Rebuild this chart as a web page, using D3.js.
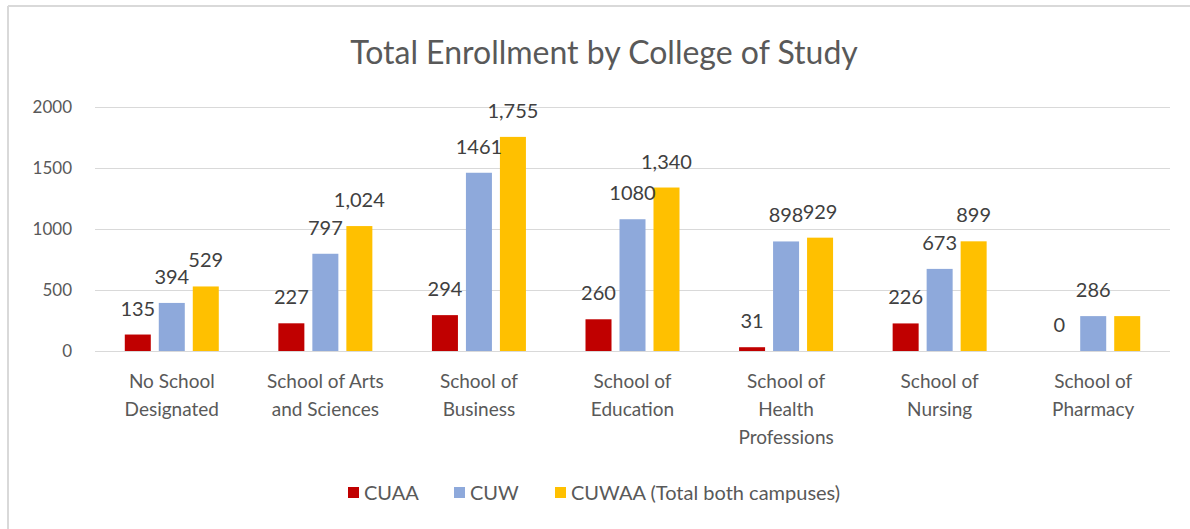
<!DOCTYPE html>
<html>
<head>
<meta charset="utf-8">
<script src="https://cdn.jsdelivr.net/npm/d3@7"></script>
<style>
  html, body { margin: 0; padding: 0; background: #fff; }
  svg { display: block; font-family: Lato, "Open Sans", sans-serif; }
</style>
</head>
<body>
<div id="chart"></div>
<script>
// data
const categories = [
    ["No School", "Designated"],
    ["School of Arts", "and Sciences"],
    ["School of", "Business"],
    ["School of", "Education"],
    ["School of", "Health", "Professions"],
    ["School of", "Nursing"],
    ["School of", "Pharmacy"]
];
const seriesNames = ["CUAA", "CUW", "CUWAA (Total both campuses)"];
const cuaa  = [135, 227, 294, 260, 31, 226, 0];
const cuw   = [394, 797, 1461, 1080, 898, 673, 286];
const cuwaa = [529, 1024, 1755, 1340, 929, 899, 286];
// the CUWAA label for pharmacy is not shown in the original
const cuwaaLabelShown = [true, true, true, true, true, true, false];
const yTicks = [0, 500, 1000, 1500, 2000];

const colors = ["#C00000", "#8EA9DB", "#FFC000"];
const textColor = "#595959";

const width = 1190, height = 529;
const margin = { left: 95 };
const plotW = 1170 - margin.left;

const svg = d3.select("#chart").append("svg")
    .attr("width", width)
    .attr("height", height);

// frame edges (left + top only visible)
svg.append("line").attr("x1", 8).attr("x2", 8).attr("y1", 6).attr("y2", height)
    .attr("stroke", "#D9D9D9").attr("stroke-width", 2);
svg.append("line").attr("x1", 8).attr("x2", width).attr("y1", 6).attr("y2", 6)
    .attr("stroke", "#D9D9D9").attr("stroke-width", 2);

// title
svg.append("text")
    .attr("x", 604)
    .attr("y", 64)
    .attr("text-anchor", "middle")
    .style("font-size", "32px")
    .style("fill", textColor)
    .text("Total Enrollment by College of Study");

const g = svg.append("g").attr("transform", `translate(${margin.left},0)`);

const y = d3.scaleLinear().domain([0, 2000]).range([351, 107]);
const x0 = d3.scaleBand().domain(d3.range(categories.length)).range([0, plotW]);
const x1 = d3.scaleBand().domain([0, 1, 2]).range([0, 94]).paddingInner(0.235);

// gridlines
g.append("g").selectAll("line")
    .data(yTicks)
    .join("line")
    .attr("x1", 0).attr("x2", plotW)
    .attr("y1", d => y(d) + 0.5).attr("y2", d => y(d) + 0.5)
    .attr("stroke", "#D9D9D9").attr("stroke-width", 1);

// y axis labels
const yAxis = g.append("g")
    .call(d3.axisLeft(y).tickValues(yTicks).tickSize(0).tickPadding(23).tickFormat(d3.format("d")));
yAxis.select(".domain").remove();
yAxis.selectAll("text")
    .style("font-size", "17px")
    .style("font-family", "Lato, 'Open Sans', sans-serif")
    .attr("fill", textColor);

// bars
const series = [cuaa, cuw, cuwaa];
const fmt = [d3.format("d"), d3.format("d"), d3.format(",")];

const groups = g.selectAll("g.cat")
    .data(categories.map((c, i) => i))
    .join("g")
    .attr("class", "cat")
    .attr("transform", i => `translate(${x0(i) + (x0.bandwidth() - 94) / 2},0)`);

groups.selectAll("rect")
    .data(i => series.map((s, k) => ({ k, v: s[i], i })))
    .join("rect")
    .attr("x", d => x1(d.k))
    .attr("width", x1.bandwidth())
    .attr("y", d => y(d.v))
    .attr("height", d => y(0) - y(d.v))
    .attr("fill", d => colors[d.k]);

groups.selectAll("text.val")
    .data(i => series.map((s, k) => ({ k, v: s[i], i }))
        .filter(d => d.k !== 2 || cuwaaLabelShown[d.i]))
    .join("text")
    .attr("class", "val")
    .attr("x", d => x1(d.k) + x1.bandwidth() / 2)
    .attr("y", d => y(d.v) - 19)
    .attr("text-anchor", "middle")
    .style("font-size", "20px")
    .style("fill", "#404040")
    .text(d => fmt[d.k](d.v));

// category labels
g.selectAll("text.cat")
    .data(categories)
    .join("text")
    .attr("class", "cat")
    .attr("x", (d, i) => x0(i) + x0.bandwidth() / 2)
    .attr("y", 388)
    .attr("text-anchor", "middle")
    .style("font-size", "19px")
    .style("fill", textColor)
    .each(function (lines) {
        d3.select(this).selectAll("tspan")
            .data(lines)
            .join("tspan")
            .attr("x", d3.select(this).attr("x"))
            .attr("dy", (l, j) => j === 0 ? 0 : 28)
            .text(l => l);
    });

// legend
const legendX = [348, 454, 555];
const legend = svg.append("g");
seriesNames.forEach((name, k) => {
    legend.append("rect")
        .attr("x", legendX[k]).attr("y", 487)
        .attr("width", 11).attr("height", 11)
        .attr("fill", colors[k]);
    legend.append("text")
        .attr("x", legendX[k] + 16).attr("y", 500)
        .style("font-size", "20px")
        .style("fill", textColor)
        .text(name);
});
</script>
</body>
</html>
